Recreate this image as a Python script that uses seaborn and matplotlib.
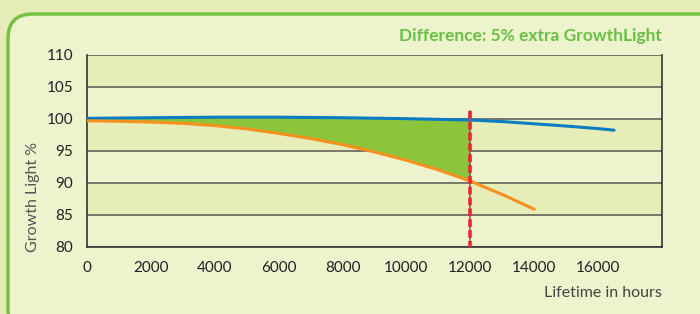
import matplotlib
matplotlib.use("Agg")
import matplotlib.pyplot as plt
import seaborn as sns
import numpy as np
import pandas as pd
from matplotlib.patches import FancyBboxPatch

# Data
blue_hours = [0, 2000, 4000, 6000, 8000, 10000, 12000, 13000, 14000, 15000, 16000, 16500]
blue_light = [100.1, 100.2, 100.28, 100.28, 100.2, 100.05, 99.84, 99.6, 99.25, 98.9, 98.5, 98.25]
orange_hours = [0, 1000, 2000, 3000, 4000, 5000, 6000, 7000, 8000, 9000, 10000,
                11000, 12000, 13000, 14000]
orange_light = [99.72, 99.64, 99.52, 99.32, 98.97, 98.45, 97.75, 96.95, 96.0, 94.85, 93.55,
                92.05, 90.3, 88.2, 85.9]
cutoff_hours = 12000
cutoff_top = 101.3
x_ticks = [0, 2000, 4000, 6000, 8000, 10000, 12000, 14000, 16000]
y_ticks = [80, 85, 90, 95, 100, 105, 110]

sns.set_theme(style="white")
plt.rcParams['font.family'] = ['Lato', 'DejaVu Sans']

fig = plt.figure(figsize=(7, 3.14), dpi=100)
fig.patch.set_facecolor("#e6ecb8")
panel = FancyBboxPatch((8/700, -20/314), 720/700, (314 - 14 + 20)/314,
                       boxstyle="round,pad=0,rounding_size=0.035",
                       transform=fig.transFigure, facecolor="#edf3cd",
                       edgecolor="#78c043", linewidth=2.5, mutation_aspect=700/314,
                       zorder=-5)
fig.patches.append(panel)

ax = fig.add_axes([87/700, 1 - 247/314, (662 - 87)/700, (247 - 55)/314])
ax.set_facecolor("#edf3cd")
ax.set_zorder(1)

# alternating bands
for i, lo in enumerate(range(80, 110, 5)):
    if i % 2 == 1:
        ax.axhspan(lo, lo + 5, color="#e6edb9", lw=0, zorder=0)
for y in y_ticks:
    ax.axhline(y, color="#77776a", lw=1.4, zorder=1)

bdf = pd.DataFrame({"hours": blue_hours, "light": blue_light})
odf = pd.DataFrame({"hours": orange_hours, "light": orange_light})

# fill between curves up to cutoff
common = sorted(set(h for h in blue_hours + orange_hours if h <= cutoff_hours))
bi = np.interp(common, blue_hours, blue_light)
oi = np.interp(common, orange_hours, orange_light)
ax.fill_between(common, oi, bi, color="#8cc43c", lw=0, zorder=2)

sns.lineplot(data=bdf, x="hours", y="light", ax=ax, color="#0a7cc1", lw=2.2, zorder=3)
sns.lineplot(data=odf, x="hours", y="light", ax=ax, color="#f7901e", lw=2.2, zorder=3)

ax.plot([cutoff_hours, cutoff_hours], [cutoff_top, 80], color="#6f6f62", lw=1.2, zorder=4)
ax.plot([cutoff_hours, cutoff_hours], [cutoff_top, 80], color="#ea2430", lw=2.6,
        dashes=(2.1, 0.9), zorder=5, clip_on=False)

ax.set_xlim(0, 18000)
ax.set_ylim(80, 110)
ax.set_xticks(x_ticks)
ax.set_yticks(y_ticks)
ax.tick_params(axis="both", direction="out", length=4, width=1.2, color="#333333",
               labelsize=11, labelcolor="#222222")
ax.tick_params(axis="y", pad=6)
ax.tick_params(axis="x", pad=6)
for s in ["left", "right", "bottom"]:
    ax.spines[s].set_visible(True)
    ax.spines[s].set_color("#333333")
    ax.spines[s].set_linewidth(1.2)
ax.spines["top"].set_visible(False)
ax.set_xlabel("")
ax.set_ylabel("")

fig.text(33/700, 1 - 197/314, "Growth Light %", rotation=90, ha="center", va="center",
         fontsize=11.5, color="#555555")
fig.text(662/700, 1 - 293/314, "Lifetime in hours", ha="right", va="center",
         fontsize=11.5, color="#444444")
fig.text(662/700, 1 - 36/314, "Difference: 5% extra GrowthLight", ha="right", va="center",
         fontsize=12.5, fontweight="bold", color="#6abf45")

fig.savefig("out.png", dpi=100, facecolor=fig.get_facecolor())
